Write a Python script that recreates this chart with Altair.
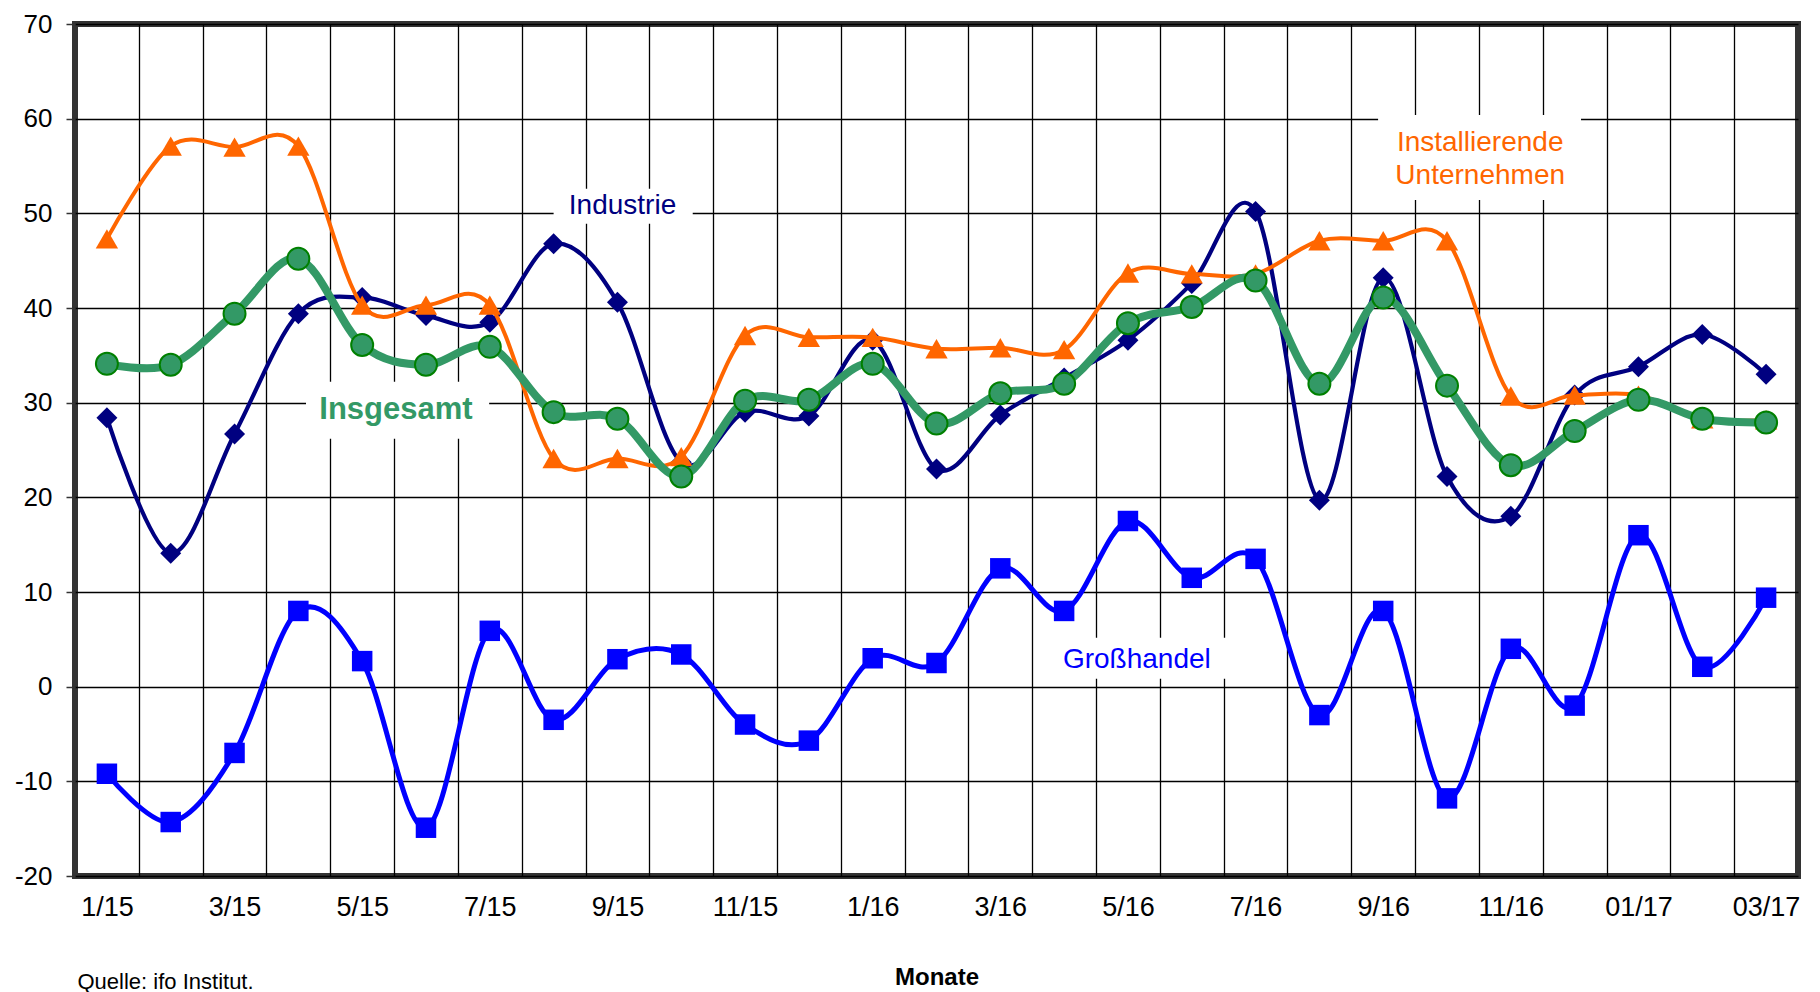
import json
import altair as alt
import pandas as pd

# ---------------- data ----------------
months = ["1/15", "2/15", "3/15", "4/15", "5/15", "6/15", "7/15", "8/15", "9/15",
          "10/15", "11/15", "12/15", "1/16", "2/16", "3/16", "4/16", "5/16", "6/16",
          "7/16", "8/16", "9/16", "10/16", "11/16", "12/16", "01/17", "02/17", "03/17"]
label_idx = list(range(0, 27, 2))
y_ticks = list(range(-20, 71, 10))

insgesamt = [34.1, 34.0, 39.4, 45.2, 36.1, 34.0, 35.9, 29.0, 28.3, 22.2, 30.2, 30.3, 34.1,
             27.8, 31.0, 32.0, 38.4, 40.1, 42.9, 32.0, 41.1, 31.8, 23.4, 27.0, 30.3, 28.3, 27.9]
industrie = [28.4, 14.1, 26.7, 39.4, 41.1, 39.2, 38.5, 46.8, 40.6, 23.7, 29.0, 28.6, 36.6,
             23.0, 28.7, 32.6, 36.6, 42.6, 50.2, 19.7, 43.2, 22.2, 18.0, 30.8, 33.8, 37.2, 33.0]
installierende = [47.3, 57.1, 57.0, 57.1, 40.3, 40.3, 40.3, 24.1, 24.1, 24.3, 37.1, 36.9, 36.9,
                  35.7, 35.8, 35.6, 43.7, 43.6, 43.6, 47.1, 47.1, 47.1, 30.7, 30.8, 30.8, 28.3, 28.2]
grosshandel = [-9.2, -14.3, -7.0, 8.0, 2.7, -14.9, 5.9, -3.5, 2.9, 3.4, -4.0, -5.7, 3.0,
               2.5, 12.5, 8.0, 17.5, 11.5, 13.5, -3.0, 8.0, -11.8, 4.0, -2.0, 16.0, 2.1, 9.4]

# annotation labels (data coordinates; y = centre of the first line)
annot_text = ["Industrie", "Insgesamt", "Installierende\nUnternehmen", "Großhandel"]
annot_x = [8.08, 4.53, 21.52, 16.14]
annot_y = [50.74, 29.26, 57.4, 2.84]
annot_color = ["#000080", "#339966", "#FF6600", "#0000FF"]
annot_bold = [False, True, False, False]
box_x1 = [7.0, 3.12, 19.92, 14.7]
box_x2 = [9.18, 5.99, 23.1, 17.6]
box_y1 = [48.9, 26.2, 51.4, 0.84]
box_y2 = [52.6, 32.2, 60.4, 5.16]

df = pd.DataFrame({
    "idx": list(range(len(months))),
    "month": months,
    "Insgesamt": insgesamt,
    "Industrie": industrie,
    "Installierende": installierende,
    "Grosshandel": grosshandel,
})
ann = pd.DataFrame({
    "text": annot_text, "x": annot_x, "y": annot_y, "color": annot_color,
    "bold": annot_bold, "x1": box_x1, "x2": box_x2, "y1": box_y1, "y2": box_y2,
})

# ---------------- layout ----------------
W, H = 1723, 852
FONT = "Liberation Sans"

x_scale = alt.Scale(domain=[-0.5, 26.5], nice=False, zero=False)
y_scale = alt.Scale(domain=[-20, 70], nice=False, zero=False)

grid_axis = alt.Axis(
    orient="bottom",
    values=[i + 0.5 for i in range(26)], grid=True, gridColor="#000000", gridWidth=1.3,
    labels=False, ticks=False, domain=False,
    title="Quelle: ifo Institut.", titleX=2, titleY=112, titleAlign="left",
    titleAnchor="start", titleBaseline="alphabetic", titleFontWeight="normal",
    titleFontSize=22, titleColor="#000000", titleFont=FONT,
)
label_axis = alt.Axis(
    orient="bottom",
    values=label_idx, grid=False, ticks=False, tickSize=0, domain=False,
    labelExpr=json.dumps(months) + "[datum.value]", labelFontSize=27,
    labelPadding=18, labelFlush=False, labelOverlap=False, labelColor="#000000",
    labelFont=FONT,
    title="Monate", titleY=101, titleBaseline="middle", titleFontWeight="bold",
    titleFontSize=24, titleColor="#000000", titleFont=FONT,
)
y_axis = alt.Axis(
    values=y_ticks, grid=True, gridColor="#000000", gridWidth=1.5,
    ticks=True, tickSize=9, tickColor="#333333", tickWidth=1.5, domain=False,
    labelExpr="datum.value + ''",
    labelFontSize=26, labelPadding=14, labelColor="#000000", labelFont=FONT,
    title=None,
)

base = alt.Chart(df)


def line_layer(field, color, width, axis):
    return base.mark_line(interpolate="cardinal", color=color, strokeWidth=width,
                          strokeCap="round", strokeJoin="round").encode(
        x=alt.X("idx:Q", scale=x_scale, axis=axis),
        y=alt.Y(field + ":Q", scale=y_scale, axis=y_axis),
    )


def point_layer(field, axis, **kw):
    return base.mark_point(opacity=1, **kw).encode(
        x=alt.X("idx:Q", scale=x_scale, axis=axis),
        y=alt.Y(field + ":Q", scale=y_scale, axis=y_axis),
    )


boxes = alt.Chart(ann).mark_rect(color="white").encode(
    x=alt.X("x1:Q", scale=x_scale, axis=None), x2="x2:Q",
    y=alt.Y("y1:Q", scale=y_scale, axis=y_axis), y2="y2:Q",
)

blue_line = line_layer("Grosshandel", "#0000FF", 5, grid_axis)
blue_pts = point_layer("Grosshandel", label_axis, shape="square", size=420,
                       filled=True, color="#0000FF")
navy_line = line_layer("Industrie", "#000080", 4.2, None)
navy_pts = point_layer("Industrie", None, shape="diamond", size=441,
                       filled=True, color="#000080")
orange_line = line_layer("Installierende", "#FF6600", 4, None)
orange_pts = point_layer("Installierende", None, shape="triangle-up", size=500,
                         filled=True, color="#FF6600")
green_line = line_layer("Insgesamt", "#339966", 8, None)
green_pts = base.mark_circle(size=484, color="#339966", opacity=1,
                             stroke="#008000", strokeWidth=2).encode(
    x=alt.X("idx:Q", scale=x_scale, axis=None),
    y=alt.Y("Insgesamt:Q", scale=y_scale, axis=y_axis),
)

text_normal = alt.Chart(ann).transform_filter("!datum.bold").mark_text(
    align="center", baseline="middle", fontSize=28, font=FONT, lineBreak="\n",
    lineHeight=33,
).encode(
    x=alt.X("x:Q", scale=x_scale, axis=None),
    y=alt.Y("y:Q", scale=y_scale, axis=y_axis),
    text="text:N",
    color=alt.Color("color:N", scale=None),
)
text_bold = alt.Chart(ann).transform_filter("datum.bold").mark_text(
    align="center", baseline="middle", fontSize=31, font=FONT, fontWeight="bold",
).encode(
    x=alt.X("x:Q", scale=x_scale, axis=None),
    y=alt.Y("y:Q", scale=y_scale, axis=y_axis),
    text="text:N",
    color=alt.Color("color:N", scale=None),
)

chart = alt.layer(
    boxes, blue_line, blue_pts, navy_line, navy_pts, orange_line, orange_pts,
    green_line, green_pts, text_normal, text_bold,
).resolve_axis(x="independent").properties(
    width=W, height=H,
    padding={"left": 67, "top": 16, "right": 14, "bottom": 116},
    autosize=alt.AutoSizeParams(type="none"),
    background="white",
).configure(font=FONT).configure_view(stroke="#333333", strokeWidth=6)

chart.save("out.html", embed_options={"renderer": "svg", "actions": False})
